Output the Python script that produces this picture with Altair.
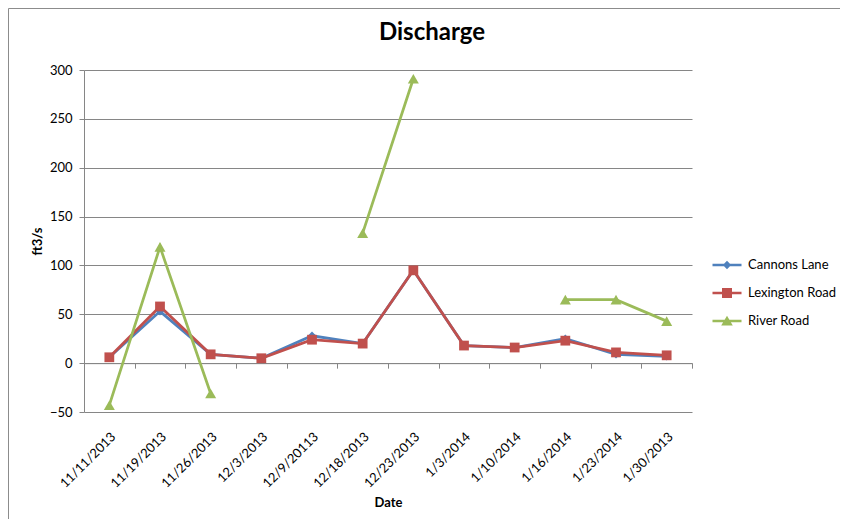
import altair as alt
import pandas as pd

chart_title = "Discharge"
dates = ["11/11/2013", "11/19/2013", "11/26/2013", "12/3/2013", "12/9/20113",
         "12/18/2013", "12/23/2013", "1/3/2014", "1/10/2014", "1/16/2014",
         "1/23/2014", "1/30/2013"]
series_names = ["Cannons Lane", "Lexington Road", "River Road"]
cannons_lane = [6, 53, 9, 5, 28, 20, 95, 18, 16, 25, 9, 7]
lexington_road = [6, 58, 9, 5, 24, 20, 95, 18, 16, 23, 11, 8]
river_road = [-43, 119, -31, None, None, 133, 291, None, None, 65, 65, 43]
y_ticks = [-50, 0, 50, 100, 150, 200, 250, 300]

colors = ["#4F81BD", "#C0504D", "#9BBB59"]
marker_shapes = ["diamond", "square", "triangle-up"]
marker_sizes = [70, 121, 150]
LINE = "M-1.45,-0.13H1.45V0.13H-1.45Z "
legend_shapes = [
    LINE + "M0,-0.42L0.42,0L0,0.42L-0.42,0Z",
    LINE + "M-0.5,-0.5H0.5V0.5H-0.5Z",
    LINE + "M0,-0.52L0.58,0.45L-0.58,0.45Z",
]

rows = []
for s, vals in zip(series_names, [cannons_lane, lexington_road, river_road]):
    for i, (d, v) in enumerate(zip(dates, vals)):
        rows.append({"Date": d, "idx": i, "series": s, "value": v})
df = pd.DataFrame(rows)

W, H = 608, 342
GRID = "#868686"
FONT = "Lato"

xscale = alt.Scale(type="band", domain=dates, paddingInner=0, paddingOuter=0)
yscale = alt.Scale(domain=[-50, 300], nice=False, zero=False)
y_enc = alt.Y("value:Q", scale=yscale,
              axis=alt.Axis(values=y_ticks, title="ft3/s", grid=True, gridColor=GRID,
                            gridWidth=1, domainColor=GRID, tickColor=GRID, tickSize=5,
                            labelFont=FONT, labelFontSize=13, labelColor="#000",
                            labelPadding=7, titleFont=FONT, titleFontSize=13,
                            titleFontWeight="bold", titleColor="#000",
                            titleX=-47, titleY=H / 2, titleBaseline="middle"))

x_main = alt.X("Date:N", sort=dates, scale=xscale, bandPosition=0.5,
               axis=alt.Axis(orient="bottom", labelAngle=-45, ticks=False, domain=False,
                             grid=False, labelFont=FONT, labelFontSize=13,
                             labelColor="#000", labelPadding=18, title="Date",
                             titleFont=FONT, titleFontSize=13, titleFontWeight="bold",
                             titleColor="#000", titleY=90, titleBaseline="middle"))
zero_offset = -(H - H * 300 / 350)
x_zero = alt.X("Date:N", sort=dates, scale=xscale, bandPosition=0.5,
               axis=alt.Axis(orient="bottom", labels=False, ticks=True, tickBand="extent",
                             tickSize=5, tickColor=GRID, domain=True, domainColor=GRID,
                             grid=False, title=None, offset=zero_offset))

color_scale = alt.Scale(domain=series_names, range=colors)

lines = alt.Chart(df).mark_line(strokeWidth=2.75, invalid="break-paths-show-domains").encode(
    x=x_main, y=y_enc,
    color=alt.Color("series:N", scale=color_scale, legend=None),
    order=alt.Order("idx:Q"),
)

points = alt.Chart(df).transform_filter("isValid(datum.value)").mark_point(
    filled=True, opacity=1).encode(
    x=x_zero, y=y_enc,
    color=alt.Color("series:N", scale=color_scale, legend=None),
    shape=alt.Shape("series:N", scale=alt.Scale(domain=series_names, range=marker_shapes), legend=None),
    size=alt.Size("series:N", scale=alt.Scale(domain=series_names, range=marker_sizes), legend=None),
)

legend_props = dict(title=None, orient="none", legendX=632, legendY=184,
                    labelFont=FONT, labelFontSize=13, labelColor="#000",
                    symbolSize=400, rowPadding=10, labelOffset=10)
legend_layer = alt.Chart(df).transform_filter("false").mark_point(
    filled=True, opacity=1, size=400).encode(
    color=alt.Color("series:N", scale=color_scale, legend=alt.Legend(**legend_props)),
    shape=alt.Shape("series:N", scale=alt.Scale(domain=series_names, range=legend_shapes),
                    legend=alt.Legend(**legend_props)),
)

frame = alt.Chart(pd.DataFrame({"a": [0]})).mark_rect(
    fill=None, stroke="#8c8c8c", strokeWidth=1, clip=False).encode(
    x=alt.value(-75.5), x2=alt.value(W + 1000), y=alt.value(-61.5), y2=alt.value(H + 1000))

title_layer = alt.Chart(pd.DataFrame({"t": [chart_title]})).mark_text(
    font=FONT, fontSize=24, fontWeight="bold", color="#000",
    align="center", baseline="alphabetic").encode(
    text="t:N", x=alt.value(W / 2 + 44), y=alt.value(-30))

chart = alt.layer(frame, lines, points, legend_layer, title_layer).resolve_scale(
    color="independent", shape="independent"
).resolve_axis(x="independent").properties(
    width=W, height=H,
    autosize=alt.AutoSizeParams(type="none"),
    padding={"left": 76, "top": 62, "right": 148, "bottom": 107},
).configure_view(stroke=None)

chart.save("out.html", embed_options={"renderer": "svg", "actions": False})
